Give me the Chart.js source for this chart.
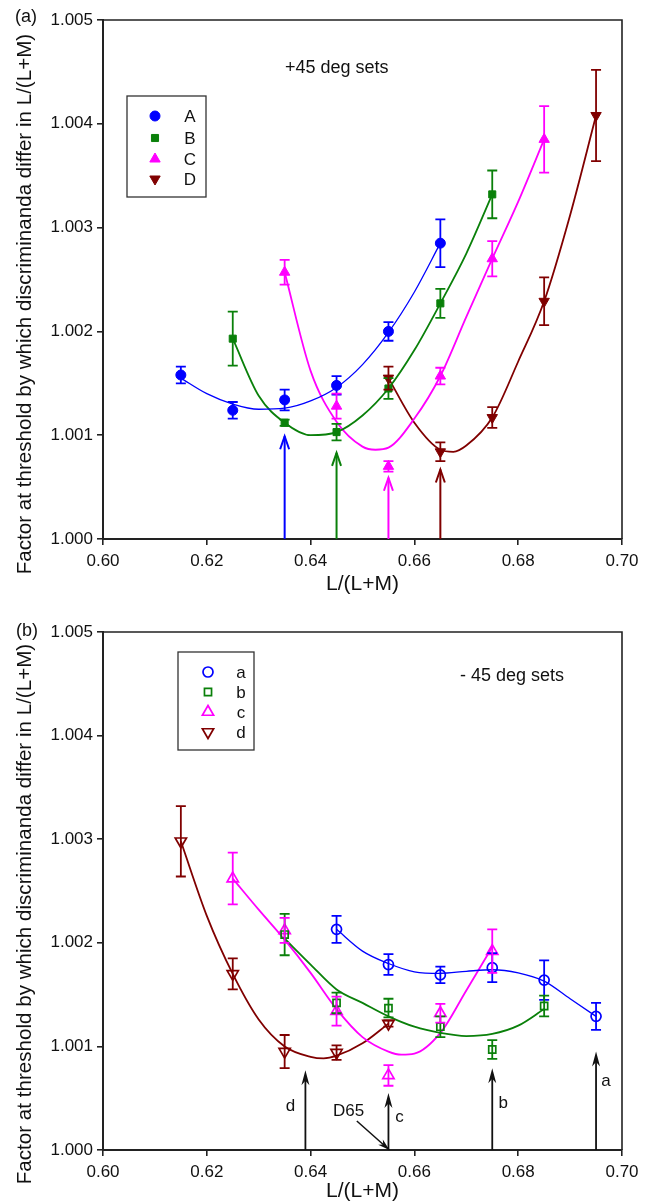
<!DOCTYPE html>
<html><head><meta charset="utf-8">
<script src="https://cdn.jsdelivr.net/npm/chart.js@4.4.1/dist/chart.umd.min.js"></script>
<style>
body{margin:0;background:#fff}
#wrap{position:relative;width:654px;height:1204px;overflow:hidden}
canvas{position:absolute;left:0;display:block}
</style></head>
<body><div id="wrap"><canvas id="c1" width="654" height="602" style="top:0"></canvas><canvas id="c2" width="654" height="602" style="top:602px"></canvas></div>
<script>
// ---------- tick labels ----------
const X_TICKS = [0.60, 0.62, 0.64, 0.66, 0.68, 0.70];
const Y_TICKS = [1.000, 1.001, 1.002, 1.003, 1.004, 1.005];

// ---------- (a) +45 deg sets : measured points ----------
const A_x = [0.615, 0.625, 0.635, 0.645, 0.655, 0.665];
const A_y = [1.00158, 1.00124, 1.00134, 1.00148, 1.00200, 1.00285];
const A_err = [0.00008, 0.00008, 0.00010, 0.00009, 0.00009, 0.00023];
const B_x = [0.625, 0.635, 0.645, 0.655, 0.665, 0.675];
const B_y = [1.00193, 1.00112, 1.00103, 1.00145, 1.00227, 1.00332];
const B_err = [0.00026, 0.00003, 0.00008, 0.00010, 0.00014, 0.00023];
const C_x = [0.635, 0.645, 0.655, 0.665, 0.675, 0.685];
const C_y = [1.00257, 1.00128, 1.00070, 1.00157, 1.00270, 1.00385];
const C_err = [0.00012, 0.00012, 0.00005, 0.00008, 0.00017, 0.00032];
const D_x = [0.655, 0.665, 0.675, 0.685, 0.695];
const D_y = [1.00155, 1.00084, 1.00117, 1.00229, 1.00408];
const D_err = [0.00011, 0.00009, 0.00010, 0.00023, 0.00044];

// ---------- (a) fitted curves ----------
const fitA_x = [0.615, 0.620, 0.625, 0.630, 0.635, 0.640, 0.645, 0.650, 0.655, 0.660, 0.665];
const fitA_y = [1.00155, 1.00140, 1.00130, 1.00125, 1.00126, 1.00133, 1.00146, 1.00168, 1.00199, 1.00238, 1.00285];
const fitB_x = [0.625, 0.630, 0.635, 0.640, 0.645, 0.650, 0.655, 0.660, 0.665, 0.670, 0.675];
const fitB_y = [1.00193, 1.00138, 1.00112, 1.00100, 1.00103, 1.00119, 1.00145, 1.00182, 1.00227, 1.00275, 1.00332];
const fitC_x = [0.635, 0.640, 0.645, 0.650, 0.6525, 0.655, 0.660, 0.665, 0.670, 0.675, 0.680, 0.685];
const fitC_y = [1.00257, 1.00162, 1.00113, 1.00089, 1.00086, 1.00088, 1.00116, 1.00157, 1.00214, 1.00270, 1.00325, 1.00385];
const fitD_x = [0.655, 0.660, 0.665, 0.6675, 0.670, 0.675, 0.680, 0.685, 0.690, 0.695];
const fitD_y = [1.00155, 1.00112, 1.00086, 1.00084, 1.00090, 1.00117, 1.00171, 1.00229, 1.00312, 1.00408];

// ---------- (a) arrows ----------
const arrTop_x = [0.635, 0.645, 0.655, 0.665];
const arrTop_y = [1.00099, 1.00083, 1.00059, 1.00067];

// ---------- (b) -45 deg sets : measured points ----------
const a_x = [0.645, 0.655, 0.665, 0.675, 0.685, 0.695];
const a_y = [1.00213, 1.00179, 1.00169, 1.00176, 1.00164, 1.00129];
const a_err = [0.00013, 0.00010, 0.00008, 0.00014, 0.00019, 0.00013];
const b_x = [0.635, 0.645, 0.655, 0.665, 0.675, 0.685];
const b_y = [1.00208, 1.00142, 1.00137, 1.00119, 1.00097, 1.00139];
const b_err = [0.00020, 0.00010, 0.00009, 0.00010, 0.00009, 0.00010];
const c_x = [0.625, 0.635, 0.645, 0.655, 0.665, 0.675];
const c_y = [1.00262, 1.00212, 1.00134, 1.00072, 1.00132, 1.00192];
const c_err = [0.00025, 0.00012, 0.00014, 0.00010, 0.00009, 0.00021];
const d_x = [0.615, 0.625, 0.635, 0.645, 0.655];
const d_y = [1.00298, 1.00170, 1.00095, 1.00094, 1.00122];
const d_err = [0.00034, 0.00015, 0.00016, 0.00007, 0.00003];

// ---------- (b) fitted curves ----------
const fita_x = [0.645, 0.650, 0.655, 0.660, 0.665, 0.670, 0.675, 0.680, 0.685, 0.690, 0.695];
const fita_y = [1.00213, 1.00192, 1.00180, 1.00172, 1.001705, 1.001725, 1.00174, 1.00171, 1.00163, 1.00146, 1.00129];
const fitb_x = [0.635, 0.640, 0.645, 0.650, 0.655, 0.660, 0.665, 0.670, 0.675, 0.680, 0.685];
const fitb_y = [1.00204, 1.00179, 1.00155, 1.00142, 1.00129, 1.00119, 1.00113, 1.00110, 1.00112, 1.00120, 1.00136];
const fitc_x = [0.625, 0.630, 0.635, 0.640, 0.645, 0.650, 0.655, 0.6575, 0.660, 0.665, 0.670, 0.675];
const fitc_y = [1.00262, 1.00232, 1.00203, 1.00171, 1.00136, 1.00109, 1.00095, 1.00092, 1.00093, 1.00113, 1.00154, 1.00196];
const fitd_x = [0.615, 0.620, 0.625, 0.630, 0.635, 0.640, 0.6425, 0.645, 0.650, 0.655];
const fitd_y = [1.00298, 1.00226, 1.00170, 1.00126, 1.00100, 1.00090, 1.000885, 1.00091, 1.00103, 1.00122];

// ---------- (b) arrows ----------
const arrBot_x = [0.639, 0.655, 0.675, 0.695];
const arrBot_y = [1.00077, 1.00055, 1.00079, 1.00095];
const arrBot_lbl = ['d', 'c', 'b', 'a'];

// ---------- colours ----------
const BLUE = '#0000ff', GREEN = '#0a800a', MAGENTA = '#ff00ff', DRED = '#800000';
const FONT = "'Liberation Sans', Arial, Helvetica, sans-serif";
const AXIS = '#222';

function pts(xs, ys) { return xs.map((x, i) => ({ x: x, y: ys[i] })); }
function markerDS(label, xs, ys, errs, color, style, rot, radius, filled) {
  return {
    label: label, data: pts(xs, ys), errs: errs, showLine: false,
    pointStyle: style, pointRotation: rot, pointRadius: radius, pointHoverRadius: radius,
    backgroundColor: filled ? color : 'rgba(0,0,0,0)', borderColor: color,
    pointBackgroundColor: filled ? color : 'rgba(0,0,0,0)', pointBorderColor: color,
    pointBorderWidth: filled ? 1 : 1.7, order: 0, isMarker: true
  };
}
function fitDS(xs, ys, color, width) {
  return {
    label: 'fit', data: pts(xs, ys), showLine: true, pointRadius: 0, pointHoverRadius: 0,
    borderColor: color, borderWidth: width, cubicInterpolationMode: 'monotone', fill: false, order: 1
  };
}

const errorBars = {
  id: 'errorBars',
  afterDatasetsDraw(chart) {
    const ctx = chart.ctx, xs = chart.scales.x, ys = chart.scales.y;
    chart.data.datasets.forEach(ds => {
      if (!ds.errs) return;
      ctx.save();
      ctx.strokeStyle = ds.borderColor; ctx.lineWidth = 1.8;
      ds.data.forEach((p, i) => {
        const e = ds.errs[i];
        const px = xs.getPixelForValue(p.x), t = ys.getPixelForValue(p.y + e), b = ys.getPixelForValue(p.y - e);
        ctx.beginPath();
        ctx.moveTo(px, t); ctx.lineTo(px, b);
        ctx.moveTo(px - 5, t); ctx.lineTo(px + 5, t);
        ctx.moveTo(px - 5, b); ctx.lineTo(px + 5, b);
        ctx.stroke();
      });
      ctx.restore();
    });
  }
};

const frame = {
  id: 'frame',
  afterDraw(chart) {
    const ctx = chart.ctx, a = chart.chartArea;
    ctx.save(); ctx.strokeStyle = AXIS; ctx.lineWidth = 1.6;
    ctx.beginPath(); ctx.moveTo(a.left, a.top); ctx.lineTo(a.right, a.top); ctx.lineTo(a.right, a.bottom); ctx.stroke();
    ctx.restore();
  }
};

function drawYTitle(ctx, cx, cy) {
  ctx.save(); ctx.translate(cx, cy); ctx.rotate(-Math.PI / 2);
  ctx.fillStyle = '#111'; ctx.font = '20.6px ' + FONT; ctx.textAlign = 'center'; ctx.textBaseline = 'middle';
  ctx.fillText('Factor at threshold by which discriminanda differ in L/(L+M)', 0, 0);
  ctx.restore();
}
function drawLegend(chart, box, mx, tx, rows) {
  const ctx = chart.ctx;
  ctx.save();
  ctx.fillStyle = '#fff'; ctx.fillRect(box[0], box[1], box[2] - box[0], box[3] - box[1]);
  ctx.strokeStyle = '#333'; ctx.lineWidth = 1.3; ctx.strokeRect(box[0], box[1], box[2] - box[0], box[3] - box[1]);
  const marks = chart.data.datasets.filter(d => d.isMarker);
  marks.forEach((ds, i) => {
    ctx.fillStyle = ds.pointBackgroundColor; ctx.strokeStyle = ds.pointBorderColor; ctx.lineWidth = ds.pointBorderWidth;
    Chart.helpers.drawPoint(ctx, { pointStyle: ds.pointStyle, radius: ds.pointRadius, rotation: ds.pointRotation, borderWidth: ds.pointBorderWidth }, mx, rows[i]);
    ctx.fillStyle = '#111'; ctx.font = '17px ' + FONT; ctx.textAlign = 'center'; ctx.textBaseline = 'middle';
    ctx.fillText(ds.label, tx, rows[i] + 1);
  });
  ctx.restore();
}
function arrowHead(ctx, x, y, w, l, filled) {
  ctx.beginPath();
  if (filled) {
    ctx.moveTo(x, y); ctx.lineTo(x - w, y + l); ctx.lineTo(x, y + l * 0.7); ctx.lineTo(x + w, y + l); ctx.closePath(); ctx.fill();
  } else {
    ctx.moveTo(x - w, y + l); ctx.lineTo(x, y); ctx.lineTo(x + w, y + l); ctx.stroke();
  }
}

function scalesCfg(xHeight) {
  const common = {
    border: { display: true, color: AXIS, width: 2 },
    grid: { display: true, drawOnChartArea: false, drawTicks: true, tickLength: 6, color: AXIS, lineWidth: 1.6 },
  };
  return {
    x: Object.assign({}, common, {
      type: 'linear', min: 0.60, max: 0.70,
      afterBuildTicks: s => { s.ticks = X_TICKS.map(v => ({ value: v })); },
      afterFit: s => { s.height = xHeight; },
      ticks: { color: '#111', font: { family: FONT, size: 17 }, padding: 6, callback: v => Number(v).toFixed(2) },
      title: { display: true, text: 'L/(L+M)', color: '#111', font: { family: FONT, size: 21 }, padding: { top: 0, bottom: xHeight > 60 ? 5 : 0 } }
    }),
    y: Object.assign({}, common, {
      type: 'linear', min: 1.000, max: 1.005,
      afterBuildTicks: s => { s.ticks = Y_TICKS.map(v => ({ value: v })); },
      afterFit: s => { s.width = 103; },
      ticks: { color: '#111', font: { family: FONT, size: 17 }, padding: 4, callback: v => Number(v).toFixed(3) }
    })
  };
}

// ---------- chart (a) ----------
const deco1 = {
  id: 'deco1',
  afterDraw(chart) {
    const ctx = chart.ctx, xs = chart.scales.x, ys = chart.scales.y;
    ctx.save();
    const cols = [BLUE, GREEN, MAGENTA, DRED];
    arrTop_x.forEach((x, i) => {
      const px = xs.getPixelForValue(x), py0 = ys.getPixelForValue(1.000), py1 = ys.getPixelForValue(arrTop_y[i]);
      ctx.strokeStyle = cols[i]; ctx.lineWidth = 2;
      ctx.beginPath(); ctx.moveTo(px, py0); ctx.lineTo(px, py1); ctx.stroke();
      arrowHead(ctx, px, py1, 4.5, 13, false);
    });
    ctx.fillStyle = '#111'; ctx.font = '18px ' + FONT; ctx.textAlign = 'left'; ctx.textBaseline = 'middle';
    ctx.fillText('+45 deg sets', 285, 68);
    ctx.font = '18px ' + FONT; ctx.textAlign = 'center';
    ctx.fillText('(a)', 26, 17);
    drawYTitle(ctx, 25, 304);
    ctx.restore();
    drawLegend(chart, [127, 96, 206, 197], 155, 190, [116, 138, 159, 179]);
  }
};

new Chart(document.getElementById('c1'), {
  type: 'scatter',
  data: {
    datasets: [
      markerDS('A', A_x, A_y, A_err, BLUE, 'circle', 0, 5, true),
      markerDS('B', B_x, B_y, B_err, GREEN, 'rect', 0, 5, true),
      markerDS('C', C_x, C_y, C_err, MAGENTA, 'triangle', 0, 6, true),
      markerDS('D', D_x, D_y, D_err, DRED, 'triangle', 180, 6, true),
      fitDS(fitA_x, fitA_y, BLUE, 1.3),
      fitDS(fitB_x, fitB_y, GREEN, 1.8),
      fitDS(fitC_x, fitC_y, MAGENTA, 1.8),
      fitDS(fitD_x, fitD_y, DRED, 1.8)
    ]
  },
  options: {
    responsive: false, devicePixelRatio: 1, animation: false,
    layout: { padding: { top: 20, right: 32, left: 0, bottom: 0 } },
    plugins: { legend: { display: false }, tooltip: { enabled: false } },
    scales: scalesCfg(63)
  },
  plugins: [errorBars, frame, deco1]
});

// ---------- chart (b) ----------
const deco2 = {
  id: 'deco2',
  afterDraw(chart) {
    const ctx = chart.ctx, xs = chart.scales.x, ys = chart.scales.y;
    ctx.save();
    ctx.strokeStyle = '#111'; ctx.fillStyle = '#111'; ctx.lineWidth = 1.8;
    const lblOff = [[-15, 1.000425], [11, 1.00032], [11, 1.00045], [10, 1.00066]];
    arrBot_x.forEach((x, i) => {
      const px = xs.getPixelForValue(x), py0 = ys.getPixelForValue(1.000), py1 = ys.getPixelForValue(arrBot_y[i]);
      ctx.beginPath(); ctx.moveTo(px, py0); ctx.lineTo(px, py1 + 6); ctx.stroke();
      arrowHead(ctx, px, py1, 4, 15, true);
      ctx.font = '17px ' + FONT; ctx.textAlign = 'center'; ctx.textBaseline = 'middle';
      ctx.fillText(arrBot_lbl[i], px + lblOff[i][0], ys.getPixelForValue(lblOff[i][1]));
    });
    // D65 marker arrow
    const sx = xs.getPixelForValue(0.6489), sy = ys.getPixelForValue(1.00028);
    const ex = xs.getPixelForValue(0.6552), ey = ys.getPixelForValue(1.0000);
    ctx.lineWidth = 1.5;
    ctx.beginPath(); ctx.moveTo(sx, sy); ctx.lineTo(ex, ey); ctx.stroke();
    const ang = Math.atan2(ey - sy, ex - sx);
    ctx.save(); ctx.translate(ex, ey); ctx.rotate(ang + Math.PI / 2); arrowHead(ctx, 0, 0, 3.5, 12, true); ctx.restore();
    ctx.font = '17px ' + FONT; ctx.textAlign = 'center'; ctx.textBaseline = 'middle';
    ctx.fillText('D65', xs.getPixelForValue(0.6473), ys.getPixelForValue(1.00037));

    ctx.font = '18px ' + FONT; ctx.textAlign = 'left';
    ctx.fillText('- 45 deg sets', 460, 74);
    ctx.font = '18px ' + FONT; ctx.textAlign = 'center';
    ctx.fillText('(b)', 27, 29);
    drawYTitle(ctx, 25, 312);
    ctx.restore();
    drawLegend(chart, [178, 50, 254, 148], 208, 241, [70, 90, 110, 130]);
  }
};

new Chart(document.getElementById('c2'), {
  type: 'scatter',
  data: {
    datasets: [
      markerDS('a', a_x, a_y, a_err, BLUE, 'circle', 0, 5, false),
      markerDS('b', b_x, b_y, b_err, GREEN, 'rect', 0, 5, false),
      markerDS('c', c_x, c_y, c_err, MAGENTA, 'triangle', 0, 6.5, false),
      markerDS('d', d_x, d_y, d_err, DRED, 'triangle', 180, 6.5, false),
      fitDS(fita_x, fita_y, BLUE, 1.3),
      fitDS(fitb_x, fitb_y, GREEN, 1.8),
      fitDS(fitc_x, fitc_y, MAGENTA, 1.8),
      fitDS(fitd_x, fitd_y, DRED, 1.8)
    ]
  },
  options: {
    responsive: false, devicePixelRatio: 1, animation: false,
    layout: { padding: { top: 30, right: 32, left: 0, bottom: 0 } },
    plugins: { legend: { display: false }, tooltip: { enabled: false } },
    scales: scalesCfg(54)
  },
  plugins: [errorBars, frame, deco2]
});
</script></body></html>
